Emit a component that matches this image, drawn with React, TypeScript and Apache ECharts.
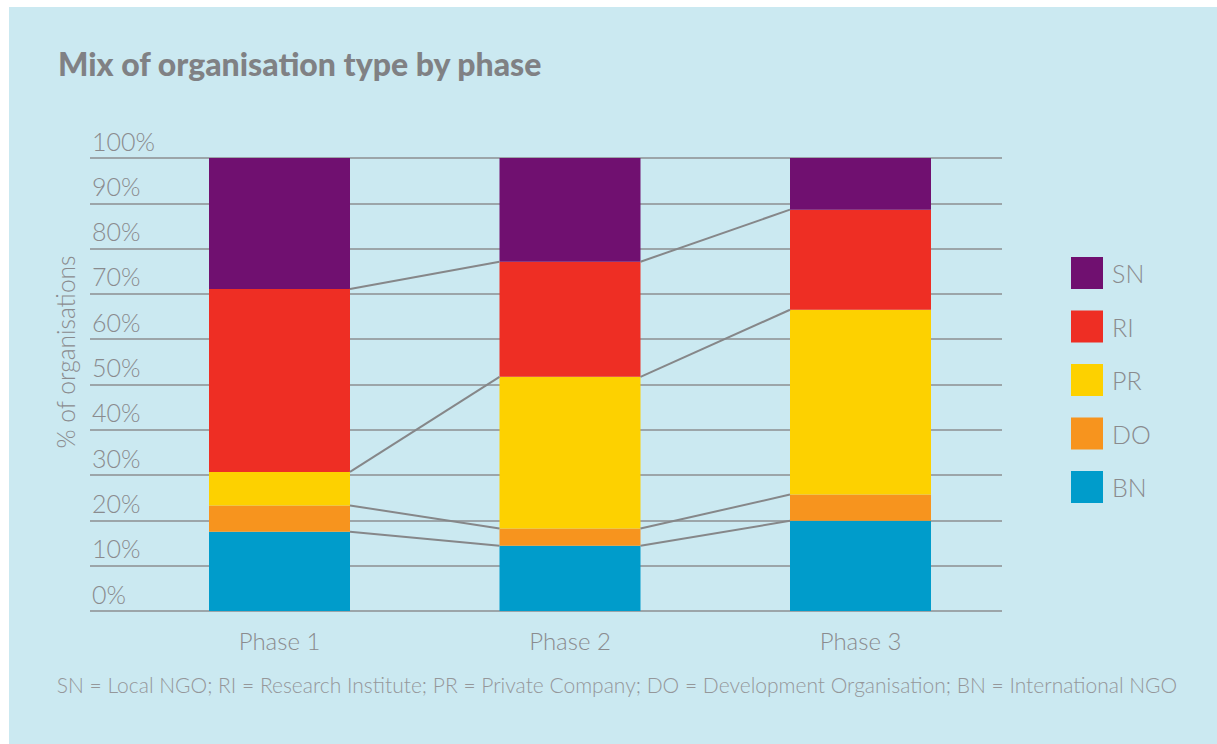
import React, { useEffect, useRef } from "react";
import * as echarts from "echarts";

const categories = ["Phase 1", "Phase 2", "Phase 3"];
const seriesNames = ["BN", "DO", "PR", "RI", "SN"];
const BN = [17.5, 14.4, 19.9];
const DO = [5.8, 3.8, 5.8];
const PR = [7.4, 33.5, 40.8];
const RI = [40.4, 25.4, 22.1];
const SN = [28.9, 22.9, 11.4];
const legendOrder = ["SN", "RI", "PR", "DO", "BN"];
const yTicks = [0, 10, 20, 30, 40, 50, 60, 70, 80, 90, 100];
const footnote =
  "SN = Local NGO; RI = Research Institute; PR = Private Company; DO = Development Organisation; BN = International NGO";
const title = "Mix of organisation type by phase";
const yName = "% of organisations";

const colors: Record<string, string> = {
  BN: "#009ccb",
  DO: "#f7941e",
  PR: "#fdd100",
  RI: "#ee2e24",
  SN: "#701070",
};

const GRAY = "#8a8b8e";
const FONT = "Lato";
const BAR_W = 141;

export default function App() {
  const ref = useRef<HTMLDivElement>(null);
  useEffect(() => {
    document.body.style.margin = "0";
    const chart = echarts.init(ref.current!, null, { renderer: "svg" });
    const values = [BN, DO, PR, RI, SN];
    const cum: number[][] = [];
    let run = [0, 0, 0];
    for (let k = 0; k < 4; k++) {
      run = run.map((r, i) => r + values[k][i]);
      cum.push(run.slice());
    }
    const connData: number[][] = [];
    cum.forEach((c) => {
      for (let i = 0; i < categories.length - 1; i++) {
        connData.push([i, c[i], c[i + 1]]);
      }
    });

    chart.setOption({
      animation: false,
      backgroundColor: "transparent",
      textStyle: { fontFamily: FONT },
      title: {
        text: title,
        left: 53,
        top: 42,
        textStyle: {
          fontFamily: FONT,
          fontSize: 32,
          fontWeight: 900,
          color: "#808184",
        },
      },
      legend: {
        orient: "vertical",
        left: 1071,
        top: 257,
        itemWidth: 32,
        itemHeight: 32,
        itemGap: 21.5,
        padding: 0,
        icon: "rect",
        data: legendOrder,
        textStyle: { fontFamily: FONT, fontSize: 25, fontWeight: 300, color: GRAY, padding: [0, 0, 0, 4] },
      },
      graphic: [
        {
          type: "text",
          x: 65,
          y: 352,
          rotation: Math.PI / 2,
          style: {
            text: yName,
            fontFamily: FONT,
            fontSize: 24.5,
            fontWeight: 300,
            fill: GRAY,
            align: "center",
            verticalAlign: "middle",
          },
        },
        {
          type: "text",
          x: 617,
          y: 684,
          style: {
            text: footnote,
            fontFamily: FONT,
            fontSize: 21,
            fontWeight: 300,
            fill: "#95979a",
            align: "center",
            verticalAlign: "middle",
          },
        },
      ],
      grid: [
        { left: 90, right: 215, top: 158, bottom: 133 },
        { left: 134.25, right: 211.25, top: 158, bottom: 133 },
      ],
      xAxis: [
        { type: "value", gridIndex: 0, show: false, min: 0, max: 1 },
        {
          type: "category",
          gridIndex: 1,
          data: categories,
          axisLine: { show: false },
          axisTick: { show: false },
          axisLabel: {
            fontFamily: FONT,
            fontSize: 24,
            fontWeight: 300,
            color: GRAY,
            margin: 17,
          },
        },
      ],
      yAxis: [
        {
          type: "value",
          gridIndex: 0,
          min: 0,
          max: 100,
          interval: 10,
          axisLine: { show: false },
          axisTick: { show: false },
          splitLine: { show: true, lineStyle: { color: "#8c8e90", width: 1.5 } },
          axisLabel: {
            inside: true,
            margin: 2,
            verticalAlign: "bottom",
            padding: [0, 0, 5, 0],
            fontFamily: FONT,
            fontSize: 25,
            fontWeight: 300,
            color: GRAY,
            formatter: (v: number) => (yTicks.includes(v) ? v + "%" : ""),
          },
        },
        {
          type: "value",
          gridIndex: 1,
          min: 0,
          max: 100,
          interval: 10,
          show: false,
        },
      ],
      series: [
        ...seriesNames.map((name, k) => ({
          name,
          type: "bar",
          stack: "total",
          xAxisIndex: 1,
          yAxisIndex: 1,
          barWidth: BAR_W,
          data: values[k],
          itemStyle: { color: colors[name] },
          z: 3,
        })),
        {
          type: "custom",
          xAxisIndex: 1,
          yAxisIndex: 1,
          data: connData,
          z: 4,
          silent: true,
          renderItem: (params: any, api: any) => {
            const i = api.value(0);
            const p1 = api.coord([i, api.value(1)]);
            const p2 = api.coord([i + 1, api.value(2)]);
            return {
              type: "line",
              shape: {
                x1: p1[0] + BAR_W / 2,
                y1: p1[1],
                x2: p2[0] - BAR_W / 2,
                y2: p2[1],
              },
              style: { stroke: "#868789", lineWidth: 2 },
            };
          },
        },
      ],
    });
    return () => chart.dispose();
  }, []);

  return (
    <div style={{ position: "relative", width: 1217, height: 744, background: "#ffffff", overflow: "hidden" }}>
      <div
        style={{ position: "absolute", left: 9, top: 7, width: 1208, height: 737, background: "#cbe9f1" }}
      />
      <div ref={ref} style={{ position: "absolute", left: 0, top: 0, width: 1217, height: 744 }} />
    </div>
  );
}
